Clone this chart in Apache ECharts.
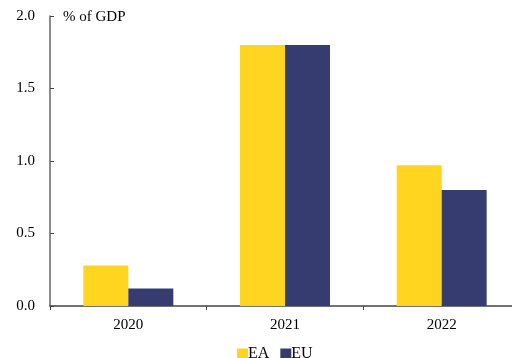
<!DOCTYPE html>
<html>
<head>
<meta charset="utf-8">
<script src="https://cdn.jsdelivr.net/npm/echarts@6/dist/echarts.min.js"></script>
<style>
  html, body { margin: 0; padding: 0; background: #fff; }
  #main { width: 512px; height: 358px; }
</style>
</head>
<body>
<div id="main"></div>
<script>
const years = ['2020', '2021', '2022']
const eaValues = [0.28, 1.8, 0.97]
const euValues = [0.12, 1.8, 0.8]
const yTicks = [0, 0.5, 1.0, 1.5, 2.0]

const font = 'Liberation Serif, Times New Roman, serif'
const chart = echarts.init(document.getElementById('main'))

const option = {
  animation: false,
  textStyle: { fontFamily: font },
  grid: { left: 50, top: 16, width: 470, height: 290, outerBoundsMode: 'none' },
  legend: {
    top: 341,
    left: 232,
    itemWidth: 11,
    itemHeight: 11,
    itemGap: 11,
    icon: 'rect',
    textStyle: { fontFamily: font, fontSize: 16, color: '#000', padding: [0, 0, 0, -5] },
    data: ['EA', 'EU']
  },
  graphic: [{
    type: 'text', left: 63, top: 10,
    style: { text: '% of GDP', font: '15px ' + font, fill: '#000' }
  }],
  xAxis: {
    type: 'category',
    data: years,
    axisLine: { lineStyle: { color: '#444', width: 1.5 } },
    axisTick: { show: true, length: 4, lineStyle: { color: '#444' } },
    axisLabel: { color: '#000', fontSize: 15, fontFamily: font, margin: 12 }
  },
  yAxis: {
    type: 'value',
    min: yTicks[0],
    max: yTicks[yTicks.length - 1],
    interval: 0.5,
    splitLine: { show: false },
    axisLine: { show: true, lineStyle: { color: '#666', width: 1.5 } },
    axisTick: { show: true, inside: true, length: 4, lineStyle: { color: '#444' } },
    axisLabel: {
      color: '#000', fontSize: 15, fontFamily: font, margin: 15,
      formatter: (v) => v.toFixed(1)
    }
  },
  series: [
    {
      name: 'EA', type: 'bar', data: eaValues,
      barWidth: 45, barGap: '0%',
      itemStyle: { color: '#FFD520' }
    },
    {
      name: 'EU', type: 'bar', data: euValues,
      barWidth: 45,
      itemStyle: { color: '#363C70' }
    }
  ]
}

chart.setOption(option)
</script>
</body>
</html>
